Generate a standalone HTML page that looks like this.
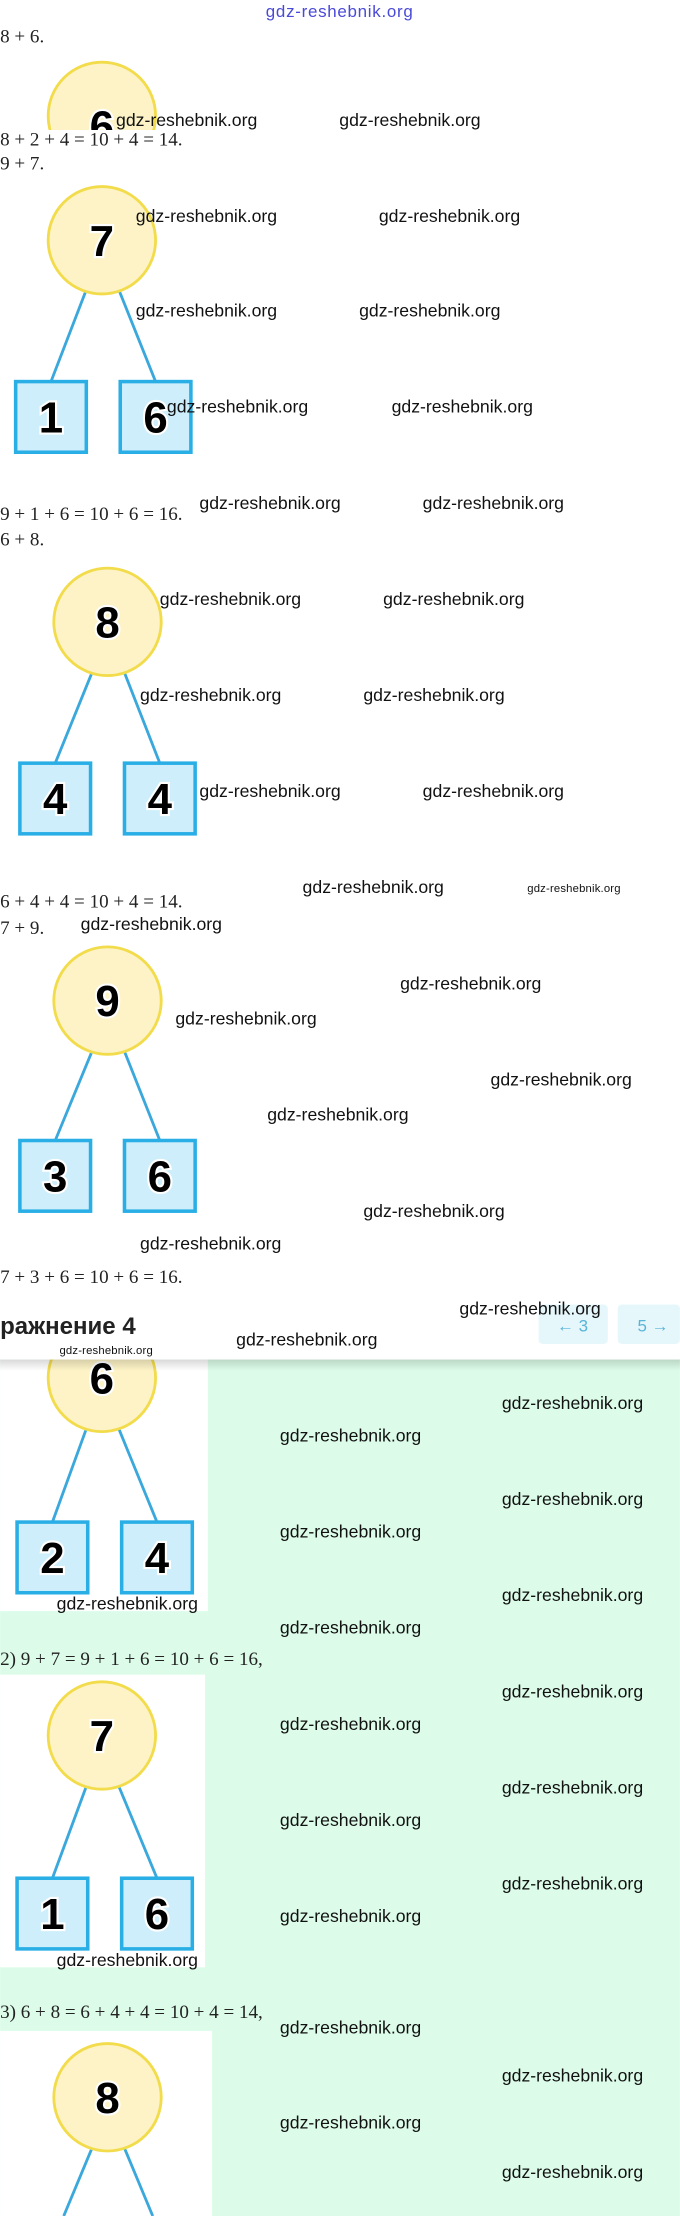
<!DOCTYPE html>
<html><head><meta charset="utf-8"><style>
html,body{margin:0;padding:0;background:#fff;width:680px;height:2216px;overflow:hidden}
svg{display:block}
.m{font-family:"Liberation Serif",serif;font-size:13.5px;fill:#222}
.w{font-family:"Liberation Sans",sans-serif;font-size:12.5px;fill:#111}
.n{font-family:"Liberation Sans",sans-serif;font-weight:bold;font-size:31px;fill:#000;text-anchor:middle;stroke:#fff;stroke-width:3;paint-order:stroke}
.c{fill:#fdf3c6;stroke:#f2dc4c;stroke-width:2}
.s{fill:#cdeefa;stroke:#2aaee6;stroke-width:2.5}
.l{stroke:#3aa8dc;stroke-width:2}
</style></head><body>
<svg width="680" height="2216" viewBox="0 0 481 1568" xmlns="http://www.w3.org/2000/svg">
<defs>
<clipPath id="c1"><rect x="0" y="0" width="481" height="92"/></clipPath>
<linearGradient id="sh" x1="0" y1="0" x2="0" y2="1"><stop offset="0" stop-color="#000" stop-opacity="0.15"/><stop offset="1" stop-color="#000" stop-opacity="0"/></linearGradient>
</defs>
<text x="240" y="12" text-anchor="middle" font-family="Liberation Sans,sans-serif" font-size="12" fill="#4a4ad8" textLength="104">gdz-reshebnik.org</text>
<text class="m" x="0" y="30">8 + 6.</text>
<g clip-path="url(#c1)"><circle class="c" cx="72" cy="82" r="38"/><text class="n" x="72" y="100">6</text></g>
<text class="m" x="0" y="103">8 + 2 + 4 = 10 + 4 = 14.</text>
<text class="m" x="0" y="120">9 + 7.</text>

<line class="l" x1="61" y1="205" x2="36" y2="270"/><line class="l" x1="84" y1="205" x2="110" y2="270"/>
<circle class="c" cx="72" cy="170" r="38"/><text class="n" x="72" y="181">7</text>
<rect class="s" x="11" y="270" width="50" height="50"/><text class="n" x="36" y="306">1</text>
<rect class="s" x="85" y="270" width="50" height="50"/><text class="n" x="110" y="306">6</text>
<text class="m" x="0" y="368">9 + 1 + 6 = 10 + 6 = 16.</text>
<text class="m" x="0" y="386">6 + 8.</text>

<line class="l" x1="65" y1="476" x2="39" y2="540"/><line class="l" x1="88" y1="476" x2="113" y2="540"/>
<circle class="c" cx="76" cy="440" r="38"/><text class="n" x="76" y="451">8</text>
<rect class="s" x="14" y="540" width="50" height="50"/><text class="n" x="39" y="576">4</text>
<rect class="s" x="88" y="540" width="50" height="50"/><text class="n" x="113" y="576">4</text>
<text class="m" x="0" y="642">6 + 4 + 4 = 10 + 4 = 14.</text>
<text class="m" x="0" y="661">7 + 9.</text>

<line class="l" x1="65" y1="744" x2="39" y2="807"/><line class="l" x1="88" y1="744" x2="113" y2="807"/>
<circle class="c" cx="76" cy="708" r="38"/><text class="n" x="76" y="719">9</text>
<rect class="s" x="14" y="807" width="50" height="50"/><text class="n" x="39" y="843">3</text>
<rect class="s" x="88" y="807" width="50" height="50"/><text class="n" x="113" y="843">6</text>
<text class="m" x="0" y="908">7 + 3 + 6 = 10 + 6 = 16.</text>

<rect x="0" y="962" width="481" height="606" fill="#dcfce9"/>
<rect x="0" y="962" width="147" height="178" fill="#fff"/>
<line class="l" x1="61" y1="1011" x2="37" y2="1077"/><line class="l" x1="84" y1="1011" x2="111" y2="1077"/>
<circle class="c" cx="72" cy="975" r="38"/><text class="n" x="72" y="986">6</text>
<rect class="s" x="12" y="1077" width="50" height="50"/><text class="n" x="37" y="1113">2</text>
<rect class="s" x="86" y="1077" width="50" height="50"/><text class="n" x="111" y="1113">4</text>
<text class="m" x="0" y="1178">2) 9 + 7 = 9 + 1 + 6 = 10 + 6 = 16,</text>

<rect x="0" y="1185" width="145" height="207" fill="#fff"/>
<line class="l" x1="61" y1="1264" x2="37" y2="1329"/><line class="l" x1="84" y1="1264" x2="111" y2="1329"/>
<circle class="c" cx="72" cy="1228" r="38"/><text class="n" x="72" y="1239">7</text>
<rect class="s" x="12" y="1329" width="50" height="50"/><text class="n" x="37" y="1365">1</text>
<rect class="s" x="86" y="1329" width="50" height="50"/><text class="n" x="111" y="1365">6</text>
<text class="m" x="0" y="1428">3) 6 + 8 = 6 + 4 + 4 = 10 + 4 = 14,</text>

<rect x="0" y="1437" width="150" height="131" fill="#fff"/>
<line class="l" x1="65" y1="1520" x2="45" y2="1568"/><line class="l" x1="88" y1="1520" x2="108" y2="1568"/>
<circle class="c" cx="76" cy="1484" r="38"/><text class="n" x="76" y="1495">8</text>

<rect x="0" y="915" width="481" height="47" fill="#fff"/>
<rect x="0" y="962" width="481" height="8" fill="url(#sh)"/>
<text x="0" y="944" font-family="Liberation Sans,sans-serif" font-size="17" font-weight="600" fill="#222">ражнение 4</text>
<rect x="381" y="923" width="49" height="28" rx="3" fill="#e6f7fc"/>
<text x="405" y="942" text-anchor="middle" font-family="Liberation Sans,sans-serif" font-size="12" fill="#5ab4d8">← 3</text>
<rect x="437" y="923" width="44" height="28" rx="3" fill="#e6f7fc"/>
<text x="462" y="942" text-anchor="middle" font-family="Liberation Sans,sans-serif" font-size="12" fill="#5ab4d8">5 →</text>

<g class="w">
<text x="82" y="89" textLength="100">gdz-reshebnik.org</text>
<text x="240" y="89" textLength="100">gdz-reshebnik.org</text>
<text x="96" y="157" textLength="100">gdz-reshebnik.org</text>
<text x="268" y="157" textLength="100">gdz-reshebnik.org</text>
<text x="96" y="224" textLength="100">gdz-reshebnik.org</text>
<text x="254" y="224" textLength="100">gdz-reshebnik.org</text>
<text x="118" y="292" textLength="100">gdz-reshebnik.org</text>
<text x="277" y="292" textLength="100">gdz-reshebnik.org</text>
<text x="141" y="360" textLength="100">gdz-reshebnik.org</text>
<text x="299" y="360" textLength="100">gdz-reshebnik.org</text>
<text x="113" y="428" textLength="100">gdz-reshebnik.org</text>
<text x="271" y="428" textLength="100">gdz-reshebnik.org</text>
<text x="99" y="496" textLength="100">gdz-reshebnik.org</text>
<text x="257" y="496" textLength="100">gdz-reshebnik.org</text>
<text x="141" y="564" textLength="100">gdz-reshebnik.org</text>
<text x="299" y="564" textLength="100">gdz-reshebnik.org</text>
<text x="214" y="632" textLength="100">gdz-reshebnik.org</text>
<text x="373" y="631" textLength="66" font-size="8">gdz-reshebnik.org</text>
<text x="57" y="658" textLength="100">gdz-reshebnik.org</text>
<text x="283" y="700" textLength="100">gdz-reshebnik.org</text>
<text x="124" y="725" textLength="100">gdz-reshebnik.org</text>
<text x="347" y="768" textLength="100">gdz-reshebnik.org</text>
<text x="189" y="793" textLength="100">gdz-reshebnik.org</text>
<text x="257" y="861" textLength="100">gdz-reshebnik.org</text>
<text x="99" y="884" textLength="100">gdz-reshebnik.org</text>
<text x="325" y="930" textLength="100">gdz-reshebnik.org</text>
<text x="167" y="952" textLength="100">gdz-reshebnik.org</text>
<text x="42" y="958" textLength="66" font-size="8">gdz-reshebnik.org</text>
<text x="355" y="997" textLength="100">gdz-reshebnik.org</text>
<text x="198" y="1020" textLength="100">gdz-reshebnik.org</text>
<text x="355" y="1065" textLength="100">gdz-reshebnik.org</text>
<text x="198" y="1088" textLength="100">gdz-reshebnik.org</text>
<text x="355" y="1133" textLength="100">gdz-reshebnik.org</text>
<text x="40" y="1139" textLength="100">gdz-reshebnik.org</text>
<text x="198" y="1156" textLength="100">gdz-reshebnik.org</text>
<text x="355" y="1201" textLength="100">gdz-reshebnik.org</text>
<text x="198" y="1224" textLength="100">gdz-reshebnik.org</text>
<text x="355" y="1269" textLength="100">gdz-reshebnik.org</text>
<text x="198" y="1292" textLength="100">gdz-reshebnik.org</text>
<text x="355" y="1337" textLength="100">gdz-reshebnik.org</text>
<text x="198" y="1360" textLength="100">gdz-reshebnik.org</text>
<text x="40" y="1391" textLength="100">gdz-reshebnik.org</text>
<text x="198" y="1439" textLength="100">gdz-reshebnik.org</text>
<text x="355" y="1473" textLength="100">gdz-reshebnik.org</text>
<text x="198" y="1506" textLength="100">gdz-reshebnik.org</text>
<text x="355" y="1541" textLength="100">gdz-reshebnik.org</text>
</g>
</svg>
</body></html>
